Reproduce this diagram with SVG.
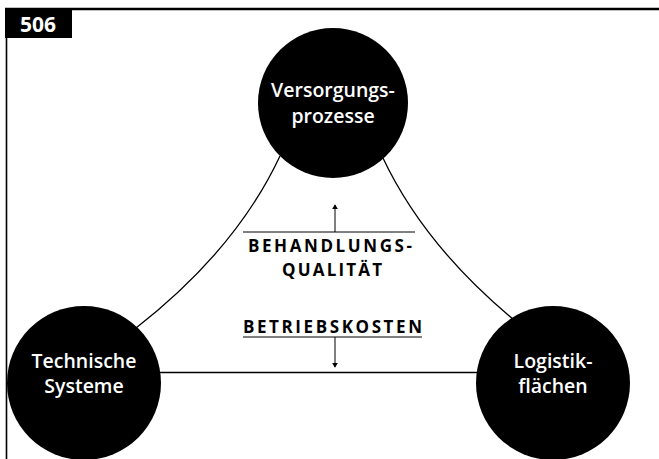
<svg xmlns="http://www.w3.org/2000/svg" width="659" height="459" viewBox="0 0 659 459">
<style>
.node{fill:#000}
.nt{font-family:"Open Sans","Noto Sans","Liberation Sans",sans-serif;font-weight:600;font-size:19.5px;fill:#fff;text-anchor:middle}
.lbl{font-family:"Open Sans","Noto Sans","Liberation Sans",sans-serif;font-weight:700;font-size:17px;fill:#000}
.conn{fill:none;stroke:#000;stroke-width:1.3}
.rule{stroke:#000;stroke-width:1;fill:none}
</style>
<defs>
<marker id="ah" viewBox="0 0 6 8" refX="5" refY="4" markerWidth="5" markerHeight="7" orient="auto" markerUnits="userSpaceOnUse">
<path d="M0,0.5 L6,4 L0,7.5 z" fill="#000"/>
</marker>
</defs>
<rect width="659" height="459" fill="#fff"/>
<g id="frame">
<line x1="5" y1="9" x2="659" y2="9" stroke="#000" stroke-width="2.5"/>
<line x1="6.5" y1="9" x2="6.5" y2="459" stroke="#000" stroke-width="1.6"/>
<rect x="5" y="8" width="67" height="30" fill="#000"/>
<text x="38" y="32" font-family="Open Sans,Noto Sans,Liberation Sans,sans-serif" font-weight="700" font-size="21" fill="#fff" text-anchor="middle">506</text>
</g>
<g id="connectors">
<path class="conn" d="M280,156 Q236,250 136,328"/>
<path class="conn" d="M382,156 Q426,250 524,328"/>
<line class="conn" x1="158" y1="372.5" x2="478" y2="372.5"/>
<line class="rule" x1="243" y1="232" x2="415" y2="232"/>
<line class="rule" x1="335" y1="232" x2="335" y2="205" marker-end="url(#ah)"/>
<line class="rule" x1="243" y1="337" x2="422" y2="337"/>
<line class="rule" x1="335" y1="337" x2="335" y2="367" marker-end="url(#ah)"/>
</g>
<g id="labels">
<text class="lbl" x="248" y="252" textLength="164" lengthAdjust="spacing">BEHANDLUNGS-</text>
<text class="lbl" x="282" y="276" textLength="100" lengthAdjust="spacing">QUALITÄT</text>
<text class="lbl" x="243" y="333" textLength="179" lengthAdjust="spacing">BETRIEBSKOSTEN</text>
</g>
<g id="versorgungsprozesse">
<circle class="node" cx="333" cy="103" r="75"/>
<text class="nt" x="333" y="97">Versorgungs-</text>
<text class="nt" x="333" y="123">prozesse</text>
</g>
<g id="technische-systeme">
<circle class="node" cx="84" cy="383" r="77"/>
<text class="nt" x="84" y="368">Technische</text>
<text class="nt" x="84" y="393">Systeme</text>
</g>
<g id="logistikflaechen">
<circle class="node" cx="553" cy="383" r="77"/>
<text class="nt" x="553" y="368">Logistik-</text>
<text class="nt" x="553" y="393">flächen</text>
</g>
</svg>
